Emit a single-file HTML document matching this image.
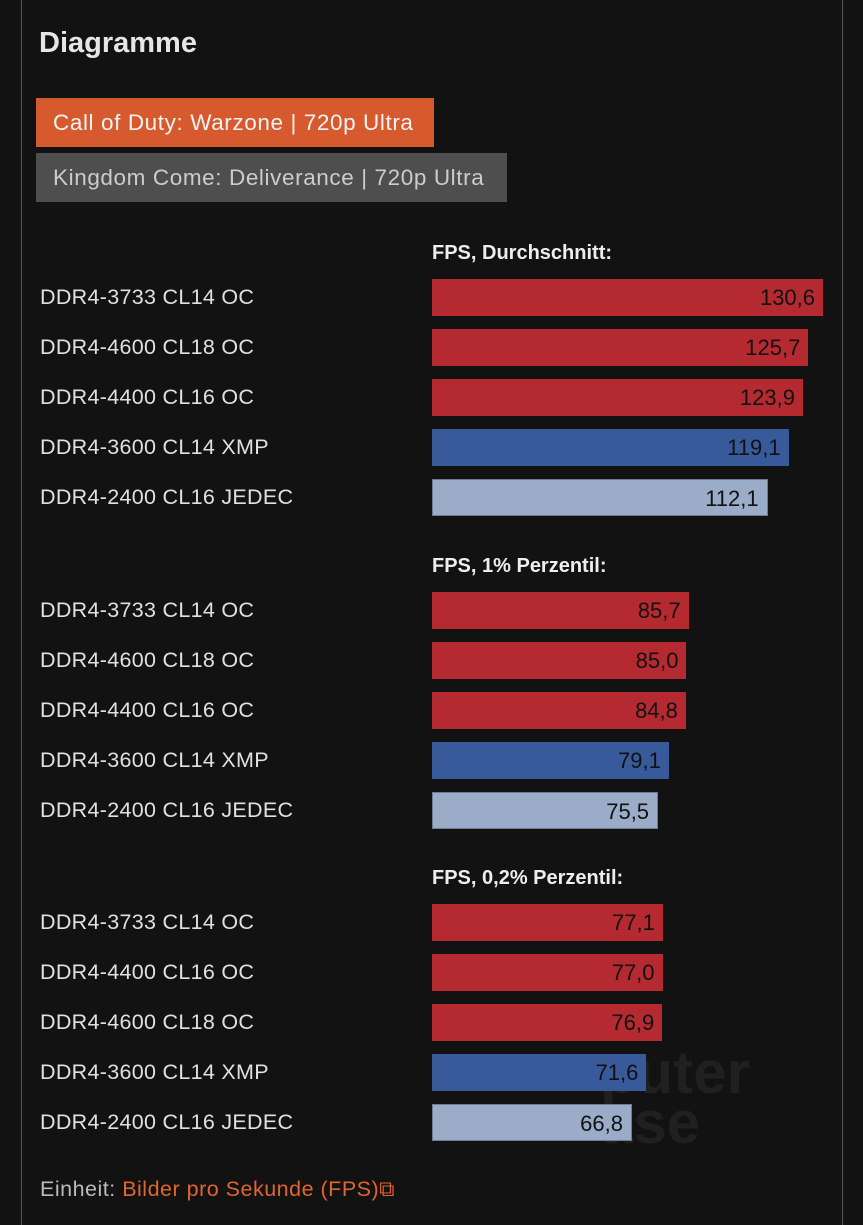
<!DOCTYPE html>
<html><head><meta charset="utf-8"><style>
body{margin:0;background:#121212;width:863px;height:1225px;overflow:hidden;font-family:"Liberation Sans",sans-serif;position:relative}
.frame{position:absolute;left:21px;top:0;width:820px;height:1225px;border-left:1px solid #555;border-right:1px solid #555}
h1{position:absolute;left:39px;top:27px;margin:0;color:#e6e6e6;font-size:29px;font-weight:bold}
.btn{position:absolute;left:36px;height:49px;line-height:49px;padding:0 17px;font-size:22.5px;letter-spacing:0.6px;box-sizing:border-box;white-space:nowrap}
.lbl{position:absolute;left:40px;color:#e0e0e0;font-size:21.5px;letter-spacing:0.3px}
.hdr{position:absolute;left:432px;color:#eee;font-size:20px;font-weight:bold}
.bar{position:absolute;left:432px;height:37px;box-sizing:border-box;text-align:right;padding-right:8px;line-height:37px;font-size:22px;color:#111}
.foot{position:absolute;left:40px;top:1177px;font-size:21.5px;letter-spacing:0.5px;color:#bbb}
.wm{position:absolute;color:#202020;font-size:60px;font-weight:bold;line-height:50px}
</style></head><body>
<div class="frame"></div>
<h1>Diagramme</h1>
<div class="btn" style="top:98px;width:398px;background:#d65a2e;color:#f3f3f3">Call of Duty: Warzone | 720p Ultra</div>
<div class="btn" style="top:153px;width:471px;background:#4e4e4e;color:#ccc">Kingdom Come: Deliverance | 720p Ultra</div>
<div class="wm" style="left:600px;top:1048px">puter</div>
<div class="wm" style="left:600px;top:1098px">ase</div>
<div id="chart"></div>
<div class="foot">Einheit: <span style="color:#e0652f">Bilder pro Sekunde (FPS)⧉</span></div>
<script>
const groupTitles=["FPS, Durchschnitt:","FPS, 1% Perzentil:","FPS, 0,2% Perzentil:"];
const labels1=["DDR4-3733 CL14 OC","DDR4-4600 CL18 OC","DDR4-4400 CL16 OC","DDR4-3600 CL14 XMP","DDR4-2400 CL16 JEDEC"];
const labels3=["DDR4-3733 CL14 OC","DDR4-4400 CL16 OC","DDR4-4600 CL18 OC","DDR4-3600 CL14 XMP","DDR4-2400 CL16 JEDEC"];
const avgValues=[130.6,125.7,123.9,119.1,112.1];
const p1Values=[85.7,85.0,84.8,79.1,75.5];
const p02Values=[77.1,77.0,76.9,71.6,66.8];
const kinds=["oc","oc","oc","xmp","jedec"];
const groups=[[labels1,avgValues],[labels1,p1Values],[labels3,p02Values]];
const colors={oc:["#b52a30","none"],xmp:["#38599a","none"],jedec:["#9bacc9","1px solid #6f7c90"]};
const xScale=v=>v*2.994;
const c=document.getElementById('chart');
groups.forEach((g,gi)=>{
  const top=279+gi*312.5;
  const h=document.createElement('div');h.className='hdr';h.style.top=(top-37)+'px';h.textContent=groupTitles[gi];
  
  
  c.appendChild(h);
  g[1].forEach((v,i)=>{
    const y=top+i*50;
    const l=document.createElement('div');l.className='lbl';l.style.top=(y+6)+'px';l.textContent=g[0][i];
    
    
    c.appendChild(l);
    const b=document.createElement('div');b.className='bar';b.style.top=y+'px';b.style.width=xScale(v)+'px';
    b.style.background=colors[kinds[i]][0];b.style.border=colors[kinds[i]][1];
    b.textContent=v.toFixed(1).replace('.',',');
    
    
    c.appendChild(b);
  });
});
</script>
</body></html>
